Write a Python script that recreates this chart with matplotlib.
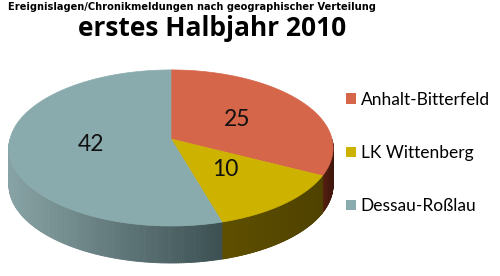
import numpy as np
import matplotlib
matplotlib.use('Agg')
import matplotlib.pyplot as plt
from matplotlib.patches import Polygon, Patch
from matplotlib.collections import PolyCollection
from matplotlib.colors import to_rgb

# data
regions = ['Anhalt-Bitterfeld', 'LK Wittenberg', 'Dessau-Roßlau']
counts = [25, 10, 42]
top_colors = ['#D6664A', '#CDB200', '#8AABAD']
# side gradient: (left colour, right colour)
side_colors = [('#54200F', '#3E150C'), ('#5E4F00', '#4F4200'), ('#88A3A5', '#3C5052')]

suptitle = 'Ereignislagen/Chronikmeldungen nach geographischer Verteilung'
title = 'erstes Halbjahr 2010'

W, H = 500, 276
fig = plt.figure(figsize=(W / 100, H / 100), dpi=100)
ax = fig.add_axes([0, 0, 1, 1])
ax.set_xlim(0, W)
ax.set_ylim(H, 0)   # pixel coords, y down
ax.axis('off')

# pie geometry in pixels, simple perspective (near edge a bit bigger)
cx, cy, A, B, k, depth = 171, 139, 161, 77, 0.115, 37

vals = np.array(counts, dtype=float)
frac = vals / vals.sum()
start = -90.0   # 12 o'clock, clockwise on screen
edges = start + np.concatenate([[0], np.cumsum(frac)]) * 360.0

def proj(t, r=1.0):
    t = np.radians(t)
    X, Y = r * np.cos(t), r * np.sin(t)
    s = 1.0 / (1.0 - k * Y)
    return cx + A * X * s, cy + B * Y * s

# sides, front half only
quads, qcols = [], []
for i in range(len(vals)):
    ts = np.linspace(edges[i], edges[i + 1], 240)
    tt = np.mod(ts, 360)
    keep = [j for j in range(len(ts) - 1) if 0 <= tt[j] <= 180 and 0 <= tt[j + 1] <= 180]
    if not keep:
        continue
    xs, ys = proj(ts)
    xl, xr = xs[keep].min(), xs[keep].max()
    cl, cr = np.array(to_rgb(side_colors[i][0])), np.array(to_rgb(side_colors[i][1]))
    for j in keep:
        quads.append([(xs[j], ys[j]), (xs[j + 1], ys[j + 1]),
                      (xs[j + 1], ys[j + 1] + depth), (xs[j], ys[j] + depth)])
        f = 0 if xr == xl else (xs[j] - xl) / (xr - xl)
        qcols.append(cl + (cr - cl) * f)
ax.add_collection(PolyCollection(quads, facecolors=qcols, edgecolors=qcols, linewidths=0.6))

# top face + value labels
for i in range(len(vals)):
    ts = np.linspace(edges[i], edges[i + 1], 240)
    xs, ys = proj(ts)
    poly = np.vstack([[cx, cy], np.column_stack([xs, ys])])
    ax.add_patch(Polygon(poly, closed=True, facecolor=top_colors[i], edgecolor=top_colors[i], lw=0.5))
    lx, ly = proj((edges[i] + edges[i + 1]) / 2, 0.5)
    ax.text(lx, ly, str(counts[i]), ha='center', va='center', fontsize=16.5,
            family='Lato', color='#111111')

fig.text(8 / W, 1 - 7 / H, suptitle, ha='left', va='center', fontsize=7.15,
         family='DejaVu Sans', weight='bold')
fig.text(212 / W, 1 - 29 / H, title, ha='center', va='center', fontsize=19,
         family='Open Sans', weight='bold')

handles = [Patch(facecolor=c, edgecolor='none') for c in top_colors]
fig.legend(handles, regions, loc='center left', bbox_to_anchor=(346 / W, 1 - 153 / H),
           frameon=False, prop={'family': 'Lato', 'size': 12.5},
           borderpad=0, borderaxespad=0,
           handlelength=0.55, handleheight=0.55, handletextpad=0.3, labelspacing=2.15)

fig.savefig('out.png', dpi=100)
